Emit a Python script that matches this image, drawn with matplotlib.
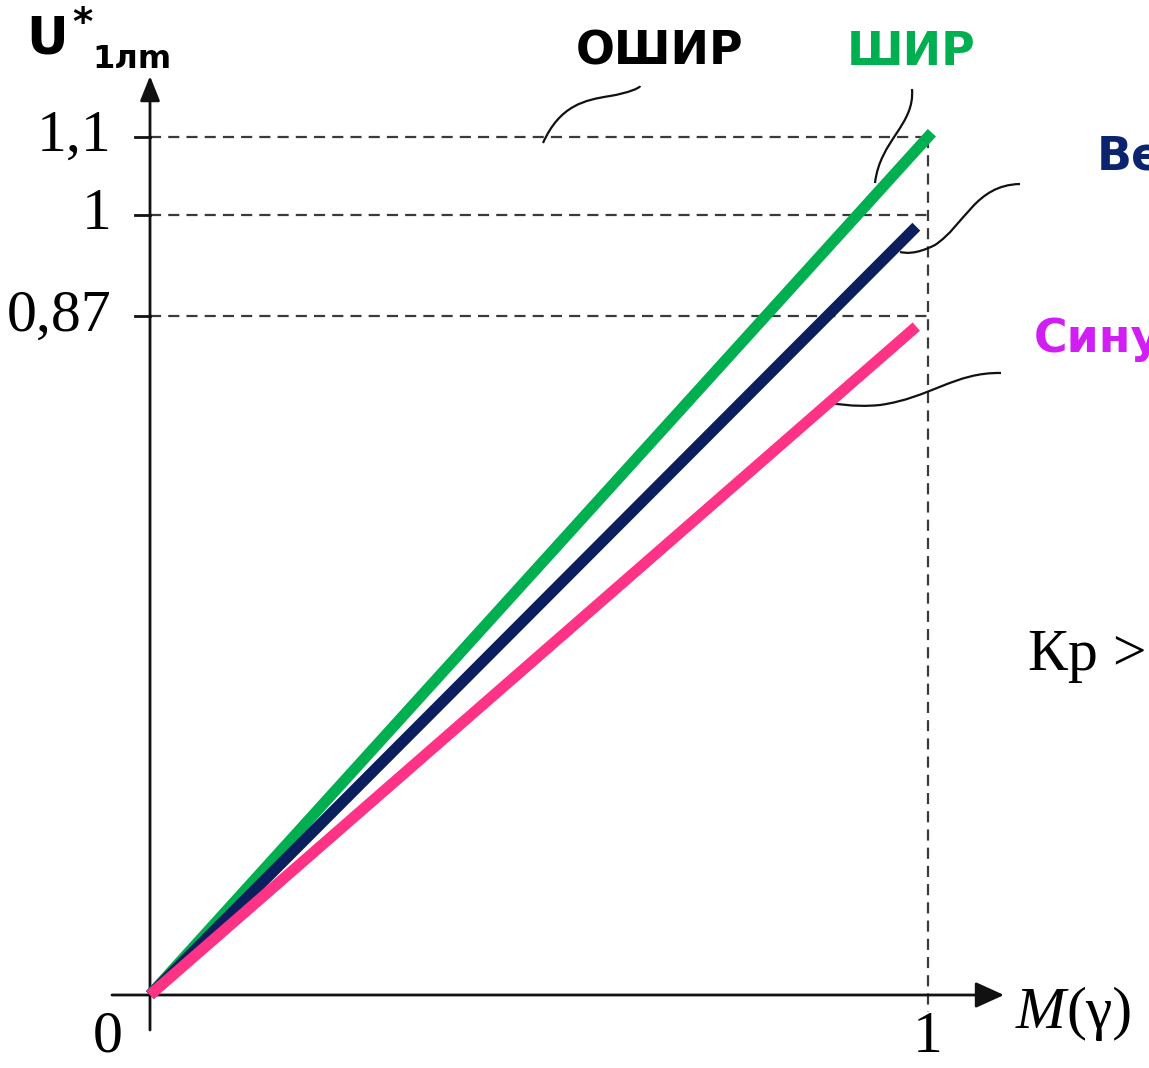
import matplotlib
matplotlib.use("Agg")
import matplotlib.pyplot as plt
from matplotlib.path import Path
from matplotlib.patches import PathPatch, FancyArrowPatch
import numpy as np

# ---- data ----
series_names = ["ШИР", "Вектор", "Синус"]
series_slopes = [1.1, 1.0, 0.87]          # U*1лт at M = 1
series_xend = [1.005, 0.985, 0.985]
series_colors = ["#00b050", "#0b1f5e", "#ff3385"]
ref_levels = [1.1, 1.0, 0.87]
ref_labels = ["1,1", "1", "0,87"]
x_ticks = [0, 1]
x_tick_labels = ["0", "1"]

W, H = 1149, 1068
fig = plt.figure(figsize=(W / 100, H / 100), dpi=100)
ax = fig.add_axes([0, 0, 1, 1])
# pixel mapping: x=0 -> 150px, x=1 -> 928px ; y=0 -> 995px, y=1 -> 215px
sx, ox = 778.0, 150.0
sy, oy = 780.0, 995.0
ax.set_xlim(-ox / sx, (W - ox) / sx)
ax.set_ylim(-(H - oy) / sy, oy / sy)
ax.axis("off")


def px(x, y):
    return ((x - ox) / sx, (oy - y) / sy)


# dashed reference lines
for lv in ref_levels:
    ax.plot([0, 1], [lv, lv], ls=(0, (5, 3.2)), color="#3a3a3a", lw=1.6, zorder=1)
ax.plot([1, 1], [max(ref_levels), px(0, 1012)[1]], ls=(0, (5, 3.2)),
        color="#3a3a3a", lw=1.6, zorder=1)

# axes with arrows
ax.add_patch(FancyArrowPatch(px(112, 995), px(1004, 995), arrowstyle="-|>,head_length=1.1,head_width=0.5",
                             mutation_scale=16, color="#111111", lw=2, zorder=2, shrinkA=0, shrinkB=0))
ax.add_patch(FancyArrowPatch(px(150, 1030), px(150, 76), arrowstyle="-|>,head_length=0.95,head_width=0.38",
                             mutation_scale=16, color="#111111", lw=2, zorder=2, shrinkA=0, shrinkB=0))
# y ticks
for lv in ref_levels:
    ax.plot([px(135, 0)[0], 0], [lv, lv], color="#111111", lw=2, zorder=2)

# data lines
for slope, xe, c in zip(series_slopes, series_xend, series_colors):
    xs = np.array([0, xe])
    ax.plot(xs, slope * xs, color=c, lw=8, solid_capstyle="butt", zorder=3)

# tick labels
serif = "Liberation Serif"
fs_serif = 43
for lv, lab in zip(ref_levels, ref_labels):
    ax.text(px(112, 0)[0], lv, lab, family=serif, fontsize=fs_serif, ha="right", va="center")
for xv, lab in zip(x_ticks, x_tick_labels):
    xx = xv if xv == 1 else px(108, 0)[0]
    ax.text(xx, px(0, 1038)[1], lab, family=serif, fontsize=fs_serif, ha="center", va="center")
ax.text(*px(1016, 1014), "M", family=serif, style="italic", fontsize=fs_serif, ha="left", va="center")
ax.text(*px(1066, 1014), "(γ)", family=serif, fontsize=fs_serif, ha="left", va="center")
ax.text(*px(1028, 656), "Кр >", family=serif, fontsize=fs_serif, ha="left", va="center")

# axis title
ax.text(*px(26, 40), "U", fontsize=37, fontweight="bold", ha="left", va="center")
ax.text(*px(72, 24), "*", fontsize=28, fontweight="bold", ha="left", va="center")
ax.text(*px(92, 60), "1лm", fontsize=23, fontweight="bold", ha="left", va="center")

# labels
fs_lab = 33
ax.text(*px(660, 52), "ОШИР", fontsize=fs_lab, fontweight="bold", ha="center", va="center", color="black")
ax.text(*px(911, 52), "ШИР", fontsize=fs_lab, fontweight="bold", ha="center", va="center", color="#00b050")
ax.text(*px(1097, 158), "Вектор", fontsize=fs_lab, fontweight="bold", ha="left", va="center", color="#0a2470")
ax.text(*px(1034, 340), "Синусоидальная", fontsize=fs_lab, fontweight="bold", ha="left", va="center", color="#d11ef5")

# leader curves (pixel control points)
leaders = [
    [(543, 143), (560, 105), (585, 100), (610, 96), (628, 93), (640, 88), (640, 86)],
    [(912, 89), (915, 125), (880, 140), (875, 183)],
    [(1020, 184), (975, 185), (965, 225), (935, 245), (915, 255), (905, 253), (900, 252)],
    [(1001, 373), (955, 372), (930, 398), (880, 405), (850, 408), (835, 402), (826, 404)],
]
for pts in leaders:
    verts = [px(*p) for p in pts]
    n = len(verts)
    codes = [Path.MOVETO] + [Path.CURVE4] * (n - 1)
    ax.add_patch(PathPatch(Path(verts, codes), fill=False, lw=1.6, color="#111111", zorder=2))

fig.savefig("out.png", dpi=100)
